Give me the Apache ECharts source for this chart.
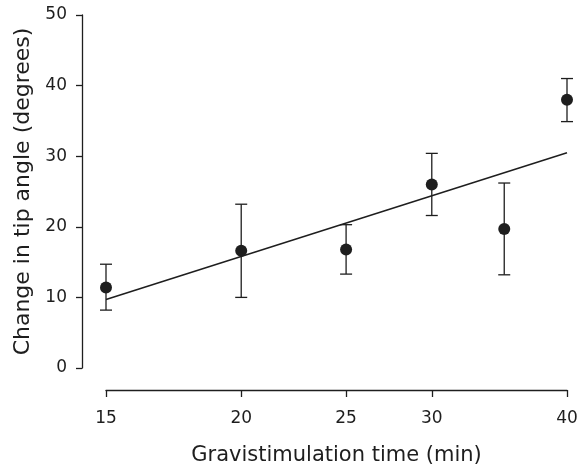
<!DOCTYPE html>
<html>
<head>
<meta charset="utf-8">
<script src="https://cdn.jsdelivr.net/npm/echarts@6/dist/echarts.min.js"></script>
<style>
  html, body { margin: 0; padding: 0; background: #fff; }
  #chart { width: 584px; height: 464px; }
</style>
</head>
<body>
<div id="chart"></div>
<script>
// gravistimulation time (min), x axis is logarithmic
const times = [15, 20, 25, 30, 35, 40]
const meanAngle = [11.4, 16.6, 16.8, 26.0, 19.7, 38.0]
const errLow = [8.2, 10.0, 13.3, 21.6, 13.2, 34.9]
const errHigh = [14.7, 23.2, 20.3, 30.4, 26.2, 41.0]
// fitted line end points
const fitTimes = [15, 40]
const fitAngle = [9.7, 30.5]
const xTicks = [15, 20, 25, 30, 40]

const ink = '#1e1e1e'
const font = 'DejaVu Sans'

const chart = echarts.init(document.getElementById('chart'))

const option = {
  backgroundColor: '#fff',
  animation: false,
  grid: { left: 106, right: 17, top: 15, bottom: 96, outerBoundsMode: 'none' },
  xAxis: {
    type: 'log',
    logBase: 10,
    min: 15,
    max: 40,
    offset: 22,
    name: 'Gravistimulation time (min)',
    nameLocation: 'middle',
    nameGap: 55,
    nameTextStyle: { color: ink, fontSize: 21, fontFamily: font },
    axisLine: { onZero: false, lineStyle: { color: ink, width: 1.3 } },
    axisTick: { customValues: xTicks, length: 7, lineStyle: { color: ink, width: 1.3 } },
    axisLabel: {
      customValues: xTicks,
      margin: 20,
      color: ink,
      fontSize: 17,
      fontFamily: font
    },
    splitLine: { show: false },
    minorTick: { show: false }
  },
  yAxis: {
    type: 'value',
    min: 0,
    max: 50,
    interval: 10,
    offset: 24,
    name: 'Change in tip angle (degrees)',
    nameLocation: 'middle',
    nameGap: 47,
    nameTextStyle: { color: ink, fontSize: 22, fontFamily: font },
    axisLine: { show: true, onZero: false, lineStyle: { color: ink, width: 1.3 } },
    axisTick: { show: true, length: 6, lineStyle: { color: ink, width: 1.3 } },
    axisLabel: { margin: 15, color: ink, fontSize: 17, fontFamily: font },
    splitLine: { show: false }
  },
  series: [
    {
      type: 'line',
      data: fitTimes.map((t, i) => [t, fitAngle[i]]),
      symbol: 'none',
      lineStyle: { color: ink, width: 1.5 },
      z: 2
    },
    {
      type: 'custom',
      data: times.map((t, i) => [t, errLow[i], errHigh[i]]),
      renderItem: (params, api) => {
        const lo = api.coord([api.value(0), api.value(1)])
        const hi = api.coord([api.value(0), api.value(2)])
        const w = 6
        const style = { stroke: ink, lineWidth: 1.3 }
        return {
          type: 'group',
          children: [
            { type: 'line', shape: { x1: lo[0], y1: lo[1], x2: hi[0], y2: hi[1] }, style },
            { type: 'line', shape: { x1: lo[0] - w, y1: lo[1], x2: lo[0] + w, y2: lo[1] }, style },
            { type: 'line', shape: { x1: hi[0] - w, y1: hi[1], x2: hi[0] + w, y2: hi[1] }, style }
          ]
        }
      },
      z: 3
    },
    {
      type: 'scatter',
      data: times.map((t, i) => [t, meanAngle[i]]),
      symbol: 'circle',
      symbolSize: 12,
      itemStyle: { color: ink, opacity: 1 },
      z: 4
    }
  ]
}

chart.setOption(option)
</script>
</body>
</html>
